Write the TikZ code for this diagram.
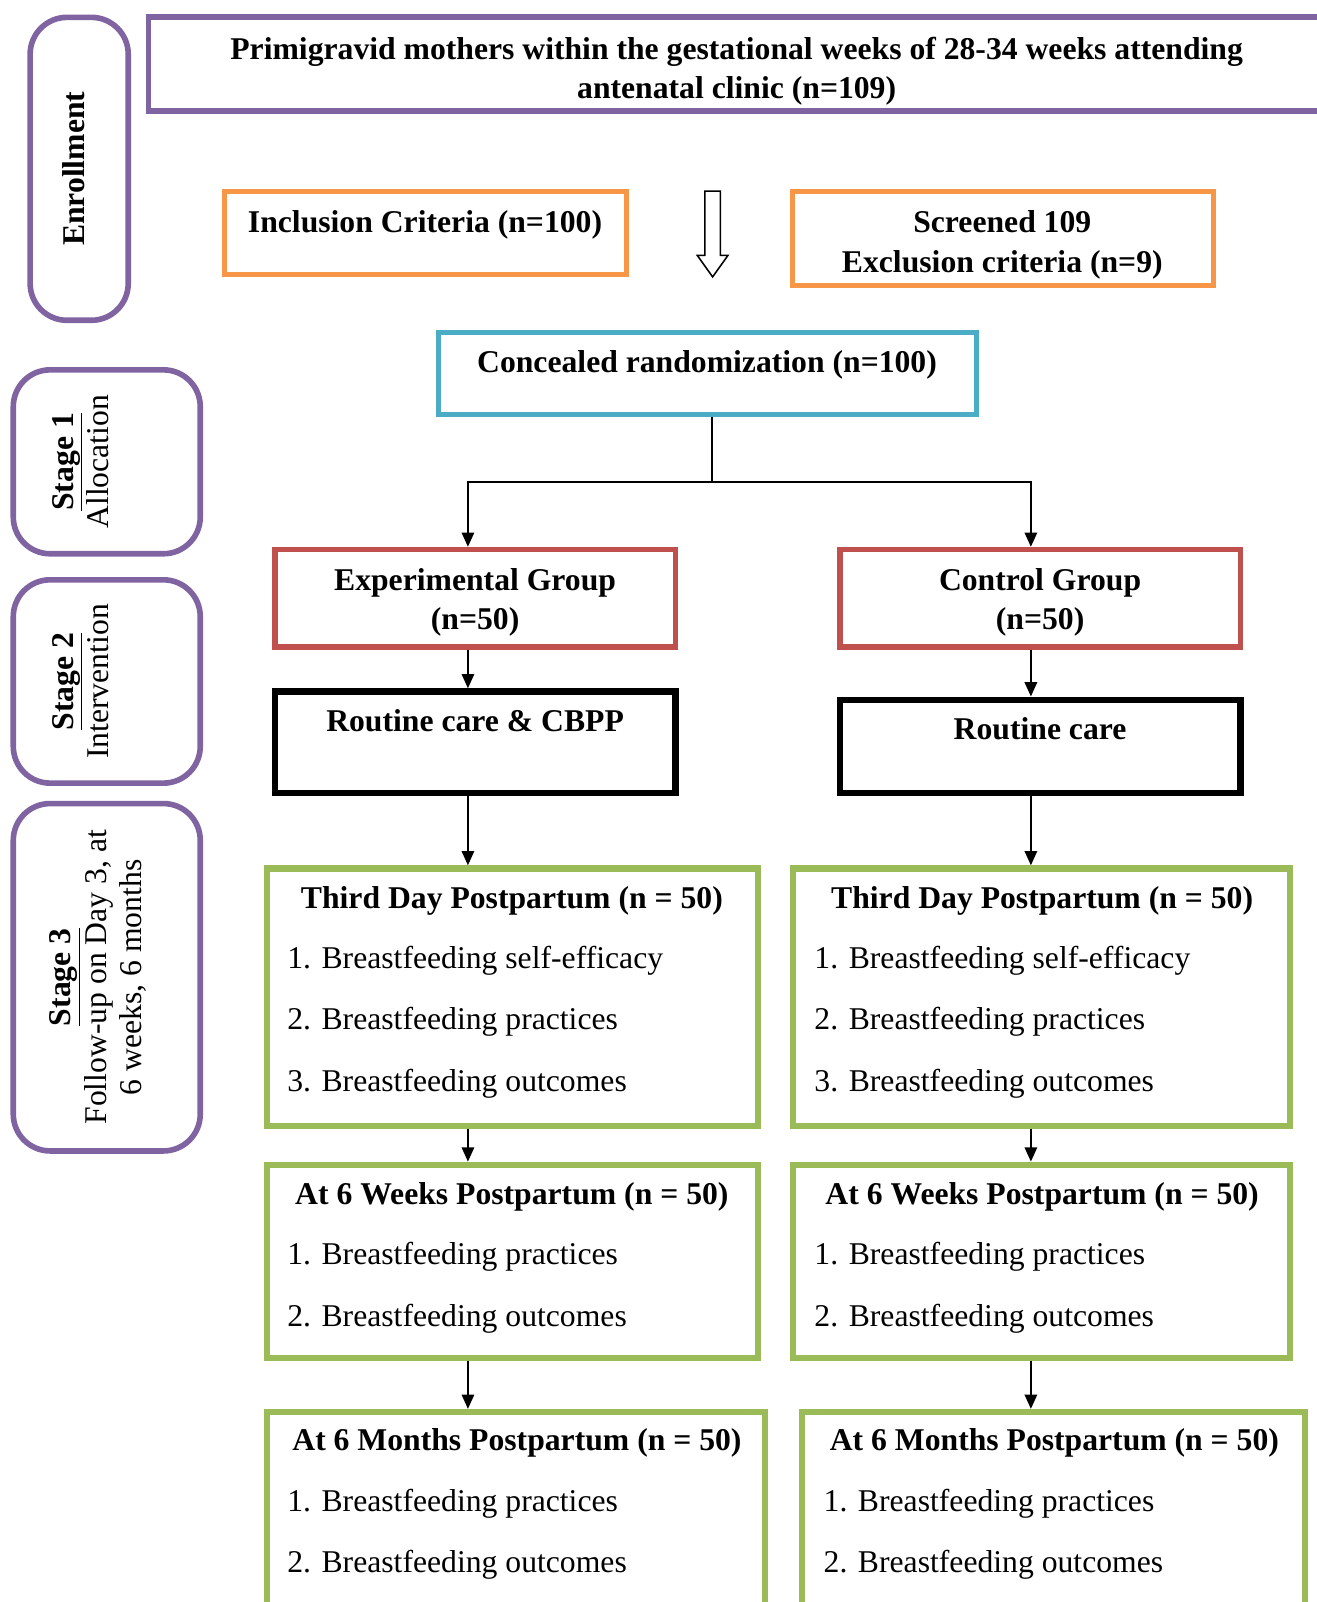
\documentclass[tikz,border=0pt]{standalone}
\usepackage{fontspec}
\setmainfont{Liberation Serif}
\usetikzlibrary{arrows.meta,calc}
\definecolor{cpurple}{HTML}{8064A2}
\definecolor{corange}{HTML}{F79646}
\definecolor{cblue}{HTML}{4BACC6}
\definecolor{cred}{HTML}{C0504D}
\definecolor{cgreen}{HTML}{9BBB59}
\tikzset{
  box/.style={draw, rectangle, inner sep=0pt, fill=none},
  pbox/.style={box, draw=cpurple, line width=5.5pt},
  stagebox/.style={box, draw=cpurple, line width=5.5pt, rounded corners=36pt},
  obox/.style={box, draw=corange, line width=5pt},
  bbox/.style={box, draw=cblue, line width=5pt},
  rbox/.style={box, draw=cred, line width=5.5pt},
  kbox/.style={box, draw=black, line width=6.5pt},
  gbox/.style={box, draw=cgreen, line width=6pt},
  txt/.style={inner sep=0pt, anchor=base, font=\fontsize{31}{38}\selectfont\bfseries},
  item/.style={inner sep=0pt, anchor=base west},
  stagetxt/.style={inner sep=0pt, rotate=90, align=center, font=\fontsize{31}{35}\selectfont},
  arr/.style={line width=2.2pt, -{Triangle[length=14pt,width=12pt]}},
  conn/.style={line width=2.2pt},
}
\begin{document}
\begin{tikzpicture}[x=1pt,y=-1pt,font=\fontsize{31}{38}\selectfont]
\clip (0,0) rectangle (1289,1568);
\path[use as bounding box] (0,0) rectangle (1289,1568);
\fill[white] (0,0) rectangle (1289,1568);

% stage boxes
\node[stagebox, minimum width=96pt, minimum height=296.5pt] (enr) at (77.5,165.25) {};
\node[stagetxt, font=\bfseries\fontsize{31}{35}\selectfont] at (72,165.25) {Enrollment};
\node[stagebox, minimum width=183pt, minimum height=180pt] (s1) at (104.5,452) {};
\node[stagetxt] at (79,452) {\textbf{\underline{Stage 1}}\\Allocation};
\node[stagebox, minimum width=183pt, minimum height=199pt] (s2) at (104.5,667) {};
\node[stagetxt] at (79,667) {\textbf{\underline{Stage 2}}\\Intervention};
\node[stagebox, minimum width=183pt, minimum height=340pt] (s3) at (104.5,956.5) {};
\node[stagetxt] at (96,956.5) {\textbf{\underline{Stage 3}}\\Follow-up on Day 3, at\\6 weeks, 6 months};

% title
\node[pbox, minimum width=1159.5pt, minimum height=92pt] (title) at (725.25,62.5) {};
\node[txt] at (721,58) {Primigravid mothers within the gestational weeks of 28-34 weeks attending};
\node[txt] at (721,96) {antenatal clinic (n=109)};

% inclusion / exclusion
\node[obox, minimum width=394pt, minimum height=81pt] (incl) at (416.5,228) {};
\node[txt] at (416,228) {Inclusion Criteria (n=100)};
\node[obox, minimum width=412pt, minimum height=92pt] (scr) at (981.5,233.5) {};
\node[txt] at (981,228) {Screened 109};
\node[txt] at (981,267) {Exclusion criteria (n=9)};

% hollow arrow
\draw[line width=1.5pt, fill=white] (690,187) -- (705,187) -- (705,250) -- (712.5,250) -- (697.5,271) -- (682.5,250) -- (690,250) -- cycle;

% randomization
\node[bbox, minimum width=526pt, minimum height=80pt] (rand) at (692.5,365.5) {};
\node[txt] at (692,365) {Concealed randomization (n=100)};

% groups
\node[rbox, minimum width=392pt, minimum height=95pt] (exp) at (465,585.5) {};
\node[txt] at (465,578) {Experimental Group};
\node[txt] at (465,616) {(n=50)};
\node[rbox, minimum width=392pt, minimum height=95pt] (ctl) at (1018,585.5) {};
\node[txt] at (1018,578) {Control Group};
\node[txt] at (1018,616) {(n=50)};

% routine care
\node[kbox, minimum width=392pt, minimum height=99pt] (rc1) at (465,726.5) {};
\node[txt] at (465,716) {Routine care \& CBPP};
\node[kbox, minimum width=392pt, minimum height=91pt] (rc2) at (1018,730.5) {};
\node[txt] at (1018,724) {Routine care};

% third day
\node[gbox, minimum width=481pt, minimum height=252pt] (td1) at (501.5,976) {};
\node[txt] at (501,889) {Third Day Postpartum (n = 50)};
\node[item] at (281,948) {1. Breastfeeding self-efficacy};
\node[item] at (281,1008) {2. Breastfeeding practices};
\node[item] at (281,1068) {3. Breastfeeding outcomes};
\node[gbox, minimum width=487pt, minimum height=252pt] (td2) at (1019.5,976) {};
\node[txt] at (1020,889) {Third Day Postpartum (n = 50)};
\node[item] at (797,948) {1. Breastfeeding self-efficacy};
\node[item] at (797,1008) {2. Breastfeeding practices};
\node[item] at (797,1068) {3. Breastfeeding outcomes};

% six weeks
\node[gbox, minimum width=481pt, minimum height=189pt] (w1) at (501.5,1234.5) {};
\node[txt] at (501,1179) {At 6 Weeks Postpartum (n = 50)};
\node[item] at (281,1238) {1. Breastfeeding practices};
\node[item] at (281,1298) {2. Breastfeeding outcomes};
\node[gbox, minimum width=487pt, minimum height=189pt] (w2) at (1019.5,1234.5) {};
\node[txt] at (1020,1179) {At 6 Weeks Postpartum (n = 50)};
\node[item] at (797,1238) {1. Breastfeeding practices};
\node[item] at (797,1298) {2. Breastfeeding outcomes};

% six months
\node[gbox, minimum width=488pt, minimum height=240pt] (m1) at (505,1502) {};
\node[txt] at (506,1420) {At 6 Months Postpartum (n = 50)};
\node[item] at (281,1479) {1. Breastfeeding practices};
\node[item] at (281,1539) {2. Breastfeeding outcomes};
\node[gbox, minimum width=492pt, minimum height=240pt] (m2) at (1031,1502) {};
\node[txt] at (1032,1420) {At 6 Months Postpartum (n = 50)};
\node[item] at (806,1479) {1. Breastfeeding practices};
\node[item] at (806,1539) {2. Breastfeeding outcomes};

% connectors
\coordinate (L) at (458,0);
\coordinate (R) at (1009,0);
\coordinate (split) at (697,472);
\draw[conn] (rand.south -| split) -- (split);
\draw[arr] (split) -- (split -| L) -- (exp.north -| L);
\draw[arr] (split) -- (split -| R) -- (ctl.north -| R);
\draw[arr] (exp.south -| L) -- (rc1.north -| L);
\draw[arr] (ctl.south -| R) -- (rc2.north -| R);
\draw[arr] (rc1.south -| L) -- (td1.north -| L);
\draw[arr] (rc2.south -| R) -- (td2.north -| R);
\draw[arr] (td1.south -| L) -- (w1.north -| L);
\draw[arr] (td2.south -| R) -- (w2.north -| R);
\draw[arr] (w1.south -| L) -- (m1.north -| L);
\draw[arr] (w2.south -| R) -- (m2.north -| R);
\end{tikzpicture}
\end{document}
